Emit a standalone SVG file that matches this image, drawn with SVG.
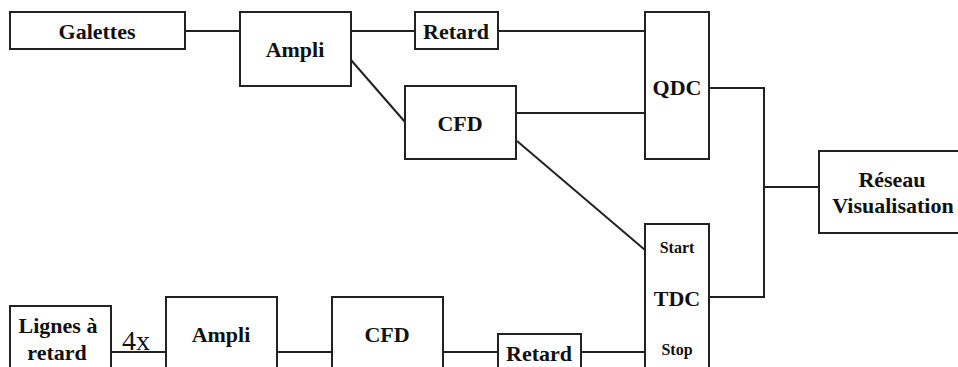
<svg xmlns="http://www.w3.org/2000/svg" width="958" height="367" viewBox="0 0 958 367">
<style>
rect{fill:#fff;stroke:#222;stroke-width:2}
line,polyline{stroke:#222;stroke-width:2;fill:none}
text{font-family:"Liberation Serif","Times New Roman",serif;font-weight:bold;font-size:22px;fill:#111;text-anchor:middle}
.s{font-size:16px}
.n{font-weight:normal;font-size:28px;text-anchor:start}
</style>
<rect x="0" y="0" width="958" height="367" style="fill:#fff;stroke:none"/>
<g id="connectors">
<line x1="185" y1="31" x2="240" y2="31"/>
<line x1="351" y1="31" x2="415" y2="31"/>
<line x1="498" y1="31" x2="645" y2="31"/>
<line x1="351" y1="60" x2="405" y2="122"/>
<line x1="516" y1="113" x2="645" y2="113"/>
<line x1="517" y1="141" x2="645" y2="250"/>
<polyline points="709,88 764,88 764,297 709,297"/>
<line x1="764" y1="187" x2="819" y2="187"/>
<line x1="111" y1="352" x2="166" y2="352"/>
<line x1="277" y1="352" x2="332" y2="352"/>
<line x1="443" y1="352" x2="498" y2="352"/>
<line x1="581" y1="352" x2="645" y2="352"/>
</g>
<g id="galettes"><rect x="10" y="12" width="175" height="37"/><text x="97" y="39">Galettes</text></g>
<g id="ampli1"><rect x="240" y="12" width="111" height="74"/><text x="295" y="57">Ampli</text></g>
<g id="retard1"><rect x="415" y="12" width="83" height="37"/><text x="456" y="39">Retard</text></g>
<g id="cfd1"><rect x="405" y="86" width="111" height="73"/><text x="460" y="131">CFD</text></g>
<g id="qdc"><rect x="645" y="12" width="64" height="147"/><text x="677" y="95">QDC</text></g>
<g id="tdc"><rect x="645" y="224" width="64" height="160"/><text class="s" x="677" y="253">Start</text><text x="677" y="306">TDC</text><text class="s" x="677" y="355">Stop</text></g>
<g id="reseau"><rect x="819" y="151" width="150" height="82"/><text x="892" y="187">Réseau</text><text x="893" y="213">Visualisation</text></g>
<g id="lignes"><rect x="10" y="306" width="101" height="80"/><text x="58" y="333">Lignes à</text><text x="57" y="360">retard</text></g>
<g id="label4x"><text class="n" x="122" y="350">4x</text></g>
<g id="ampli2"><rect x="166" y="297" width="111" height="90"/><text x="221" y="342">Ampli</text></g>
<g id="cfd2"><rect x="332" y="297" width="111" height="90"/><text x="387" y="342">CFD</text></g>
<g id="retard2"><rect x="498" y="334" width="83" height="50"/><text x="539" y="361">Retard</text></g>
</svg>
